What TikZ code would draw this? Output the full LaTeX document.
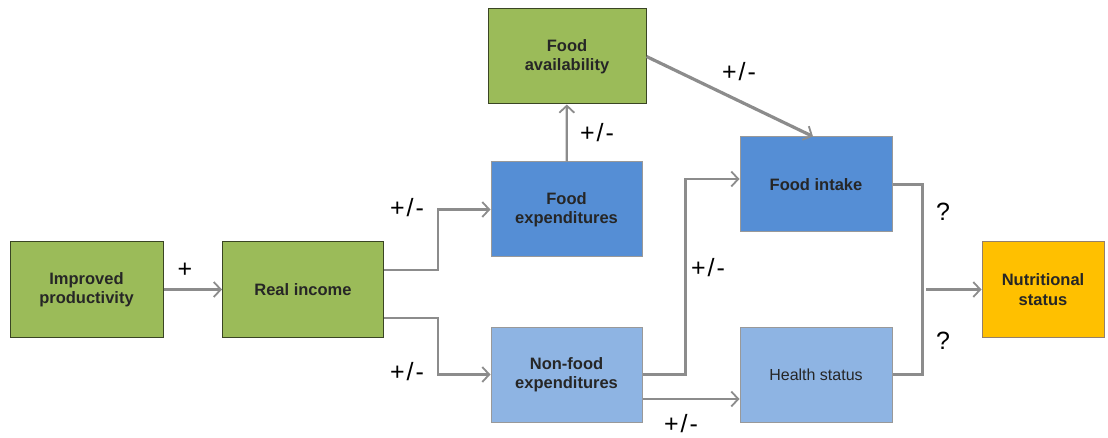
\documentclass[tikz,border=0pt]{standalone}
\usepackage{fontspec}
\setmainfont{Liberation Sans}
\usetikzlibrary{arrows.meta,calc}
\definecolor{boxgreen}{HTML}{9BBB59}
\definecolor{boxblue}{HTML}{558ED5}
\definecolor{boxlight}{HTML}{8EB4E3}
\definecolor{boxgold}{HTML}{FFC000}
\definecolor{linegray}{HTML}{8C8C8C}
\definecolor{greenedge}{HTML}{3A4524}
\tikzset{
  box/.style={draw, line width=1pt, minimum width=#1, minimum height=95pt, inner sep=0pt, align=center,
    font=\fontsize{16.5}{19.5}\selectfont\bfseries, text=black!85},
  box/.default=152pt,
  gbox/.style={box=#1, fill=boxgreen, draw=greenedge},
  gbox/.default=152pt,
  bbox/.style={box, fill=boxblue, draw=gray!80},
  lbox/.style={box, fill=boxlight, draw=gray!80},
  conn/.style={draw=linegray, line width=2.2pt, -{Straight Barb[length=7pt,width=15pt,line width=1.8pt]}},
  seg/.style={draw=linegray, line width=2.2pt},
  lbl/.style={font=\fontsize{25}{27}\selectfont, text=black, inner sep=0pt}
}
\newcommand{\plmi}{+\kern2pt/\kern2pt-}
\begin{document}
\begin{tikzpicture}[x=1pt,y=-1pt]
\useasboundingbox (0,0) rectangle (1108,438);
\node[gbox=153pt] (ip) at (86.5,289.5) {Improved\\productivity};
\node[gbox=161pt] (ri) at (303,289.5) {Real income};
\node[gbox=158pt] (fa) at (567,56.5) {Food\\availability};
\node[bbox, minimum width=151pt] (fe) at (566.5,209.5) {Food\\expenditures};
\node[lbox, minimum width=151pt] (nfe) at (566.5,374.5) {Non-food\\expenditures};
\node[bbox] (fi) at (816,184.5) {Food intake};
\node[lbox, font=\fontsize{16}{19.5}\selectfont] (hs) at (816,374.5) {Health status};
\node[box=122pt, fill=boxgold, draw=gray!70!brown] (ns) at (1043,289.5) {Nutritional\\status};
\coordinate (join) at (926,289.5);

\draw[conn] (ip) -- (ri);
\draw[conn] ([yshift=19.5pt]ri.east) -- ++(54,0) |- (fe.west);
\draw[conn] ([yshift=-28.5pt]ri.east) -- ++(54,0) |- (nfe.west);
\draw[conn] (fe) -- (fa);
\draw[conn, line width=3.2pt] (fa.east) -- ([xshift=-3pt]fi.north);
\draw[conn] (nfe.east) -- ++(43,0) |- ([yshift=5.5pt]fi.west);
\draw[conn] ([yshift=-24.5pt]nfe.east) -- ([yshift=-24.5pt]hs.west);
\draw[seg] (fi.east) -- ++(30,0) |- (hs.east);
\draw[conn] (join) -- (ns);

\node[lbl] (l1) at (185,270) {+};
\node[lbl] (l2) at (407,208) {\plmi};
\node[lbl] (l3) at (407,372) {\plmi};
\node[lbl] (l4) at (597,133) {\plmi};
\node[lbl] (l5) at (739,72) {\plmi};
\node[lbl] (l6) at (708,268) {\plmi};
\node[lbl] (l7) at (681,424) {\plmi};
\node[lbl] (l8) at (943,212) {?};
\node[lbl] (l9) at (943,341) {?};
\end{tikzpicture}
\end{document}
